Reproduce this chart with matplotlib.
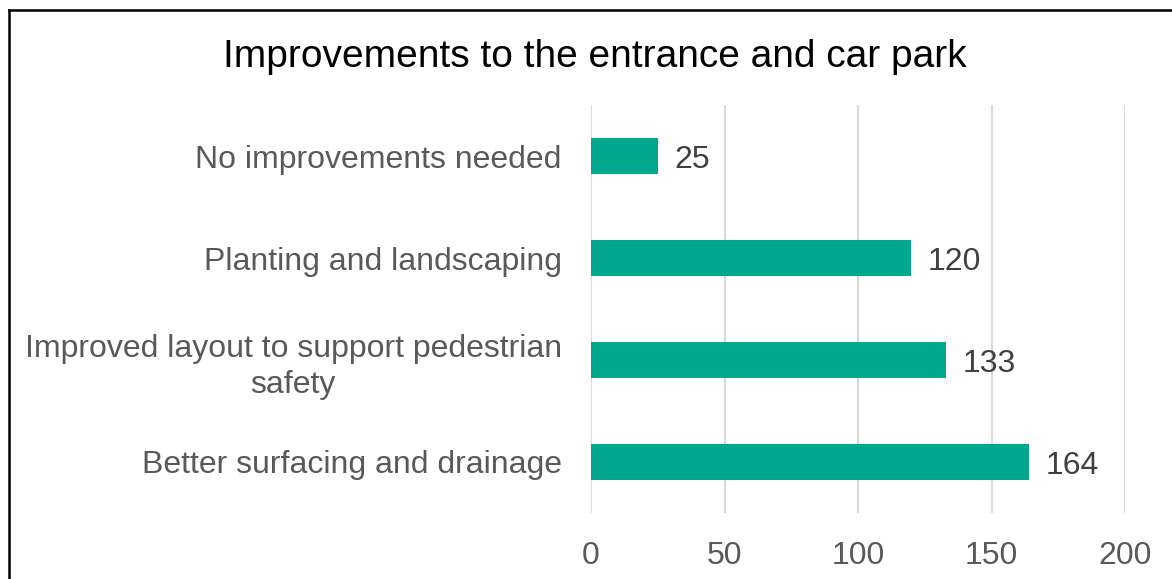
import matplotlib
matplotlib.use("Agg")
import matplotlib.pyplot as plt
from matplotlib.lines import Line2D

categories = ["No improvements needed",
              "Planting and landscaping",
              "Improved layout to support pedestrian\nsafety",
              "Better surfacing and drainage"]
values = [25, 120, 133, 164]
x_ticks = [0, 50, 100, 150, 200]
title = "Improvements to the entrance and car park"

W, H = 1172, 579
plt.rcParams['font.family'] = ['Liberation Sans', 'DejaVu Sans']
fig = plt.figure(figsize=(W / 100, H / 100), dpi=100)
ax = fig.add_axes([591 / W, (H - 513) / H, (1125 - 591) / W, (513 - 105) / H])

ypos = list(range(len(categories)))
ax.barh(ypos, values, height=0.35, color="#02A88E", zorder=3)
for y, v in zip(ypos, values):
    ax.annotate(str(v), (v, y), xytext=(12, 0), textcoords="offset points",
                va="center_baseline", ha="left", fontsize=23, color="#404040")

ax.set_xlim(0, 200)
ax.set_ylim(len(categories) - 0.5, -0.5)
ax.set_xticks(x_ticks)
ax.set_xticklabels([str(t) for t in x_ticks], fontsize=23, color="#595959")
ax.set_yticks(ypos)
ax.set_yticklabels(categories, fontsize=23, color="#595959", ha="right",
                   multialignment="center", linespacing=1.3)
ax.tick_params(axis="y", length=0, pad=21)
ax.tick_params(axis="x", length=0, pad=20)
ax.grid(axis="x", color="#D9D9D9", linewidth=1.5, zorder=0)
for s in ax.spines.values():
    s.set_visible(False)

fig.text(595 / W, 1 - 57 / H, title, ha="center", va="center", fontsize=28, color="#000000")

# outer frame (only left and top edges visible in the crop)
fig.add_artist(Line2D([8.5 / W, 8.5 / W], [0, 1 - 9.5 / H], color="black", linewidth=1.8))
fig.add_artist(Line2D([8.5 / W, 1], [1 - 9.5 / H, 1 - 9.5 / H], color="black", linewidth=1.8))

fig.savefig("out.png", dpi=100)
